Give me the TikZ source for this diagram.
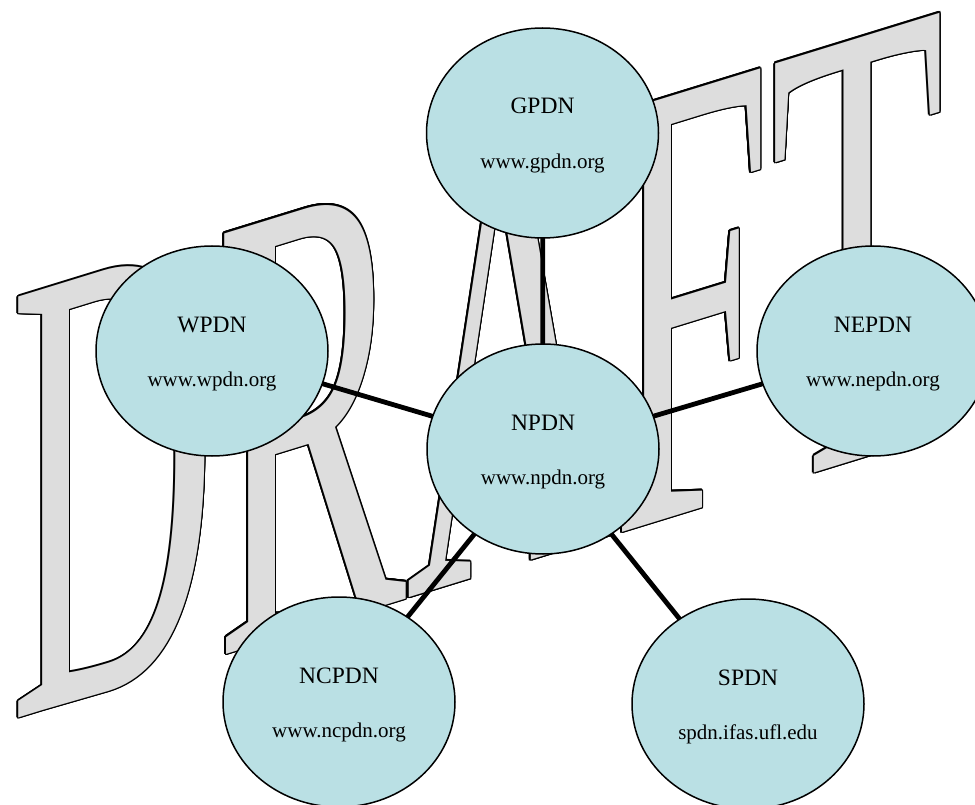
\documentclass[tikz,border=0pt]{standalone}
\usepackage{fontspec}
\setmainfont{Liberation Serif}
\usetikzlibrary{shapes.geometric}
\definecolor{ellfill}{RGB}{186,224,228}
\definecolor{wmgrey}{RGB}{221,221,221}
\pgfdeclarelayer{wm}
\pgfdeclarelayer{links}
\pgfsetlayers{wm,links,main}
\tikzset{
  ell/.style={ellipse, draw=black, line width=1.5pt, fill=ellfill,
    minimum width=232pt, minimum height=210pt, inner sep=0pt},
  ttl/.style={anchor=base, inner sep=0pt, font=\fontsize{23.5}{24}\selectfont},
  urltext/.style={anchor=base, inner sep=0pt, font=\fontsize{21}{22}\selectfont},
  link/.style={line width=4.8pt, draw=black},
  wmtext/.style={anchor=base west, inner sep=0pt, outer sep=0pt,
    transform shape, font=\fontsize{100}{100}\selectfont},
  wmtf/.style={yslant=0.308, xscale=2.85, yscale=6.43}
}
\newcommand\pdnnode[5]{%
  \node[ell] (#1) at (#2,-#3) {};
  \node[ttl] (#1-t) at (#2,-#3+19) {#4};
  \node[urltext] (#1-u) at (#2,-#3-35.5) {#5};
}
\begin{document}
\begin{tikzpicture}[x=1pt,y=1pt]
\useasboundingbox (0,0) rectangle (975,-805);
\begin{pgfonlayer}{wm}
  \foreach \a [count=\i] in {0,22.5,...,337.5}{
    \begin{scope}[shift={({10.4+1.5*cos(\a)},{-720.4+1.5*sin(\a)})}, wmtf]
      \node[wmtext, text=black] (wmo\i) at (0,0) {DRAFT};
    \end{scope}}
  \begin{scope}[shift={(10.4,-720.4)}, wmtf]
    \node[wmtext, text=wmgrey] (wm) at (0,0) {DRAFT};
  \end{scope}
\end{pgfonlayer}
\clip (0,0) rectangle (975,-805);
\pdnnode{gpdn}{542.5}{133}{GPDN}{www.gpdn.org}
\pdnnode{npdn}{543}{449}{NPDN}{www.npdn.org}
\pdnnode{wpdn}{212}{351}{WPDN}{www.wpdn.org}
\pdnnode{nepdn}{873}{351}{NEPDN}{www.nepdn.org}
\pdnnode{ncpdn}{339}{702}{NCPDN}{www.ncpdn.org}
\pdnnode{spdn}{748}{704}{SPDN}{spdn.ifas.ufl.edu}
\begin{pgfonlayer}{links}
  \draw[link] (npdn.center) -- (gpdn.center);
  \draw[link] (npdn.center) -- (wpdn.center);
  \draw[link] (npdn.center) -- (nepdn.center);
  \draw[link] (npdn.center) -- (ncpdn.center);
  \draw[link] (npdn.center) -- (spdn.center);
\end{pgfonlayer}
\end{tikzpicture}
\end{document}
